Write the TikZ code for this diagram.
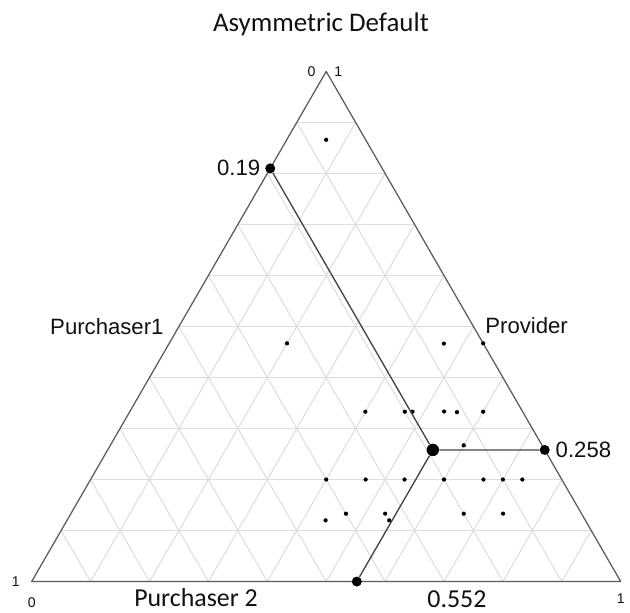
\documentclass[tikz,border=0pt]{standalone}
\usepackage{fontspec}
\setmainfont{Liberation Sans}
\newfontfamily\calib{Carlito}
\usepackage{tikz}
\usetikzlibrary{positioning, calc}
\definecolor{edgeGray}{HTML}{5A5A5A}
\definecolor{gridGray}{HTML}{DDDDDD}
\definecolor{lineGray}{HTML}{444444}
\definecolor{inkBlack}{HTML}{111111}

\begin{document}
\begin{tikzpicture}
    \tikzset{edge/.style={draw=edgeGray,line width=0.6pt,line join=round}, grid/.style={draw=gridGray,line width=0.5pt}, conn/.style={draw=lineGray,line width=0.65pt}, obs/.style={fill=black}, bigpt/.style={circle,fill=black,inner sep=0pt,minimum size=2.1mm}, endpt/.style={circle,fill=black,inner sep=0pt,minimum size=1.7mm}, lbl/.style={text=inkBlack,inner sep=1pt,font=\fontsize{10.7}{12}\selectfont}, cal/.style={text=inkBlack,inner sep=0pt,font=\calib\fontsize{12.5}{14}\selectfont}, ticklbl/.style={text=inkBlack,inner sep=1pt,font=\fontsize{6.8}{8}\selectfont}}
    \useasboundingbox (-0.538,-0.518) rectangle (10.158,9.873);
    \coordinate (L) at (0,0); \coordinate (R) at (10,0); \coordinate (T) at (5,8.660);
    % grid, ten parts each way
    \foreach \i in {1,...,9} {
      \draw[grid] ($(L)!\i/10!(T)$) -- ($(R)!\i/10!(T)$);
      \draw[grid] ($(L)!\i/10!(R)$) -- ($(T)!\i/10!(R)$);
      \draw[grid] ($(L)!\i/10!(R)$) -- ($(L)!\i/10!(T)$);
    }
    \draw[edge] (L) -- (R) -- (T) -- cycle;
    % observed outcomes
    \foreach \a/\b/\c in {0.067/0.067/0.867, 0.333/0.2/0.467, 0.067/0.467/0.467, 0/0.533/0.467, 0.267/0.4/0.333, 0.2/0.467/0.333, 0.187/0.48/0.333, 0.133/0.533/0.333, 0.112/0.556/0.332, 0.067/0.6/0.333, 0.133/0.6/0.267, 0.4/0.4/0.2, 0.333/0.467/0.2, 0.267/0.533/0.2, 0.2/0.6/0.2, 0.133/0.667/0.2, 0.1/0.7/0.2, 0.067/0.733/0.2, 0.4/0.467/0.133, 0.333/0.533/0.133, 0.2/0.667/0.133, 0.133/0.733/0.133, 0.441/0.439/0.12, 0.333/0.547/0.12}
      \fill[obs] (barycentric cs:L=\a,R=\b,T=\c) circle (0.036);
    \node[bigpt] (mean) at (barycentric cs:L=0.19,R=0.552,T=0.258) {};
    \node[endpt] (pur1) at (barycentric cs:L=0.19,T=0.81) {};
    \node[endpt] (prov) at (barycentric cs:R=0.742,T=0.258) {};
    \node[endpt] (pur2) at (barycentric cs:L=0.448,R=0.552) {};
    \draw[conn] (pur1) -- (mean) -- (prov); \draw[conn] (mean) -- (pur2);
    \node[lbl,left=1pt of pur1] {0.19};
    \node[lbl,right=1.5pt of prov] {0.258};
    \node[lbl,anchor=base east] at (2.28,4.20) {Purchaser1};
    \node[lbl,anchor=base west] at (7.66,4.214) {Provider};
    \node[cal,anchor=base] at (2.79,-0.43) {Purchaser 2};
    \node[cal,anchor=base] at (7.22,-0.44) {0.552};
    \node[cal,anchor=base,font=\calib\fontsize{13}{15}\selectfont] (title) at (4.91,9.334) {Asymmetric Default};
    % corner ticks
    \node[ticklbl,left=4pt of T] {0}; \node[ticklbl,right=2.7pt of T] {1};
    \node[ticklbl,left=4.6pt of L] {1}; \node[ticklbl,below=6.6pt of L] {0};
    \node[ticklbl,below=4.7pt of R] {1};
  \end{tikzpicture}
\end{document}
